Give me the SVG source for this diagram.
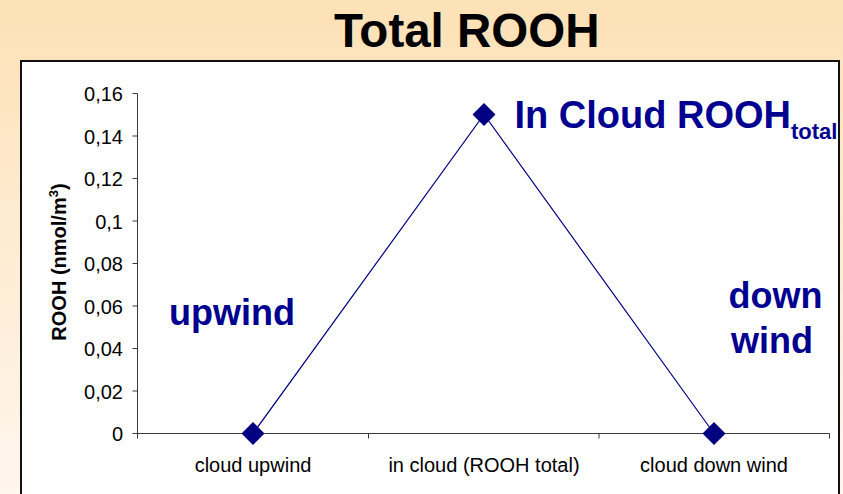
<svg xmlns="http://www.w3.org/2000/svg" width="843" height="494" viewBox="0 0 843 494">
  <defs>
    <linearGradient id="bgGrad" x1="0" y1="0" x2="0" y2="1">
      <stop offset="0" stop-color="#FDE1B6"/>
      <stop offset="1" stop-color="#FFF6EE"/>
    </linearGradient>
    <style>
      .title { font-family: "Liberation Sans", Arial, sans-serif; font-weight: bold; font-size: 47.5px; fill: #000; text-anchor: middle; }
      .axis { stroke: #3a3a3a; stroke-width: 1; fill: none; }
      .tick { font-family: "Liberation Sans", Arial, sans-serif; font-size: 20px; fill: #000; text-anchor: end; }
      .cat { font-family: "Liberation Sans", Arial, sans-serif; font-size: 20px; fill: #000; text-anchor: middle; }
      .ylab { font-family: "Liberation Sans", Arial, sans-serif; font-weight: bold; font-size: 20px; fill: #000; text-anchor: middle; }
      .series { stroke: #000080; stroke-width: 1.2; fill: none; }
      .marker { fill: #000080; }
      .note { font-family: "Liberation Sans", Arial, sans-serif; font-weight: bold; font-size: 36px; fill: #000090; }
      .note.big { font-size: 38px; }
    </style>
  </defs>

  <!-- slide background and plot frame -->
  <rect id="background" x="0" y="0" width="843" height="494" fill="url(#bgGrad)"/>
  <text id="title" class="title" x="466.7" y="46.7">Total ROOH</text>
  <rect id="plot-frame" x="21" y="61" width="818" height="440" fill="#fff" stroke="#111" stroke-width="2"/>

  <!-- value axis -->
  <g id="y-axis">
    <path class="axis" d="M137.5 93.5V438.5
      M132.5 93.5H137.5 M132.5 136H137.5 M132.5 178.5H137.5 M132.5 221H137.5
      M132.5 263.5H137.5 M132.5 306H137.5 M132.5 348.5H137.5 M132.5 391H137.5 M132.5 433.5H137.5"/>
    <text class="tick" x="123" y="101">0,16</text>
    <text class="tick" x="123" y="143.5">0,14</text>
    <text class="tick" x="123" y="186">0,12</text>
    <text class="tick" x="123" y="228.5">0,1</text>
    <text class="tick" x="123" y="271">0,08</text>
    <text class="tick" x="123" y="313.5">0,06</text>
    <text class="tick" x="123" y="356">0,04</text>
    <text class="tick" x="123" y="398.5">0,02</text>
    <text class="tick" x="123" y="441">0</text>
    <text class="ylab" transform="translate(66 262) rotate(-90)">ROOH (nmol/m<tspan font-size="13" dy="-8">3</tspan><tspan dy="8">)</tspan></text>
  </g>

  <!-- category axis -->
  <g id="x-axis">
    <path class="axis" d="M137.5 433.5H829.5 M368.5 433.5V438.5 M599 433.5V438.5 M829.5 433.5V438.5"/>
    <text class="cat" x="253" y="472">cloud upwind</text>
    <text class="cat" x="484" y="472">in cloud (ROOH total)</text>
    <text class="cat" x="714" y="472">cloud down wind</text>
  </g>

  <!-- series connectors -->
  <g id="connectors">
    <polyline class="series" points="253,433.5 484,114.5 714,433.5"/>
  </g>

  <!-- data points -->
  <g id="point-upwind">
    <path class="marker" d="M253 422L264.5 433.5L253 445L241.5 433.5Z"/>
  </g>
  <g id="point-in-cloud">
    <path class="marker" d="M484 103L495.5 114.5L484 126L472.5 114.5Z"/>
  </g>
  <g id="point-downwind">
    <path class="marker" d="M714 422L725.5 433.5L714 445L702.5 433.5Z"/>
  </g>

  <!-- annotations -->
  <g id="label-in-cloud">
    <text class="note big" x="514.5" y="128">In Cloud ROOH<tspan font-size="22" dy="11">total</tspan></text>
  </g>
  <g id="label-upwind">
    <text class="note" x="169" y="325">upwind</text>
  </g>
  <g id="label-downwind">
    <text class="note" x="728.5" y="308">down</text>
    <text class="note" x="731" y="353">wind</text>
  </g>
</svg>
